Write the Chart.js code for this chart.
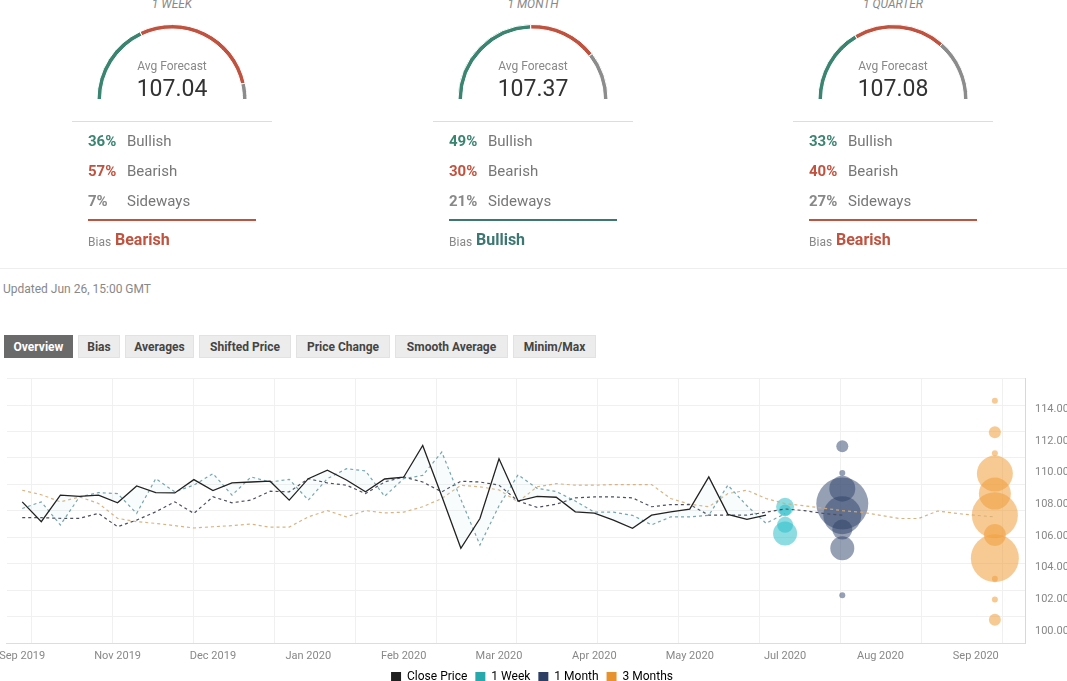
<!DOCTYPE html>
<html lang="en">
<head>
<meta charset="UTF-8">
<title>USD/JPY Forecast Poll</title>
<script src="https://cdn.jsdelivr.net/npm/chart.js@4.4.1/dist/chart.umd.min.js"></script>
<style>
    html, body { margin: 0; padding: 0; }
    body {
        width: 1067px; height: 681px; overflow: hidden; position: relative;
        background: #fff; font-family: Roboto, "Open Sans", sans-serif; color: #333;
    }
    .abs { position: absolute; white-space: nowrap; }
    .gtitle { font-size: 12px; font-style: italic; color: #888; line-height: 14px; width: 200px; text-align: center; }
    .avg-lbl { font-size: 12px; color: #888; line-height: 14px; width: 200px; text-align: center; }
    .avg-val { font-size: 23px; color: #333; line-height: 26px; width: 200px; text-align: center; }
    .hr { height: 1px; background: #ddd; }
    .pct { font-size: 15px; font-weight: bold; line-height: 18px; }
    .lbl { font-size: 15px; color: #777; line-height: 18px; }
    .bias-small { font-size: 12px; color: #888; line-height: 14px; }
    .bias-val { font-size: 16px; font-weight: bold; line-height: 18px; }
    .gauge { position: absolute; width: 152px; height: 76px; }
    .tabs { position: absolute; left: 4px; top: 335px; display: flex; gap: 5px; }
    .tab {
        height: 23px; line-height: 23px; font-size: 12px; font-weight: bold; color: #444;
        background: #ececec; text-align: center; box-sizing: border-box; border: 1px solid #e2e2e2;
    }
    .tab.on { background: #6a6a6a; color: #fff; border-color: #6a6a6a; }
    #mainWrap { position: absolute; left: -8px; top: 362px; width: 1075px; height: 331px; }
</style>
</head>
<body>
<div id="pollBox"></div>
<div class="abs hr" style="left:0; top:268px; width:1067px; background:#eee;"></div>
<div class="abs" style="left:3px; top:282px; font-size:12px; color:#888;">Updated Jun 26, 15:00 GMT</div>
<div id="mainWrap"><canvas id="mainChart"></canvas></div>
<div class="tabs" id="tabs"></div>

<script>
    // poll summary
    const horizons = ["1 WEEK", "1 MONTH", "1 QUARTER"];
    const avgForecast = ["107.04", "107.37", "107.08"];
    const bullish = [36, 49, 33];
    const bearish = [57, 30, 40];
    const sideways = [7, 21, 27];
    const bias = ["Bearish", "Bullish", "Bearish"];

    const tabNames = ["Overview", "Bias", "Averages", "Shifted Price", "Price Change", "Smooth Average", "Minim/Max"];

    // weekly series, index 0 = first week of Sep 2019
    const closePrice = [
        108.15, 106.9, 108.57, 108.5, 108.57, 108.09, 109.15, 108.73, 108.71, 109.55,
        108.86, 109.34, 109.4, 109.45, 108.26, 109.61, 110.14, 109.53, 108.78, 109.59,
        109.7, 111.7, 108.5, 105.22, 107.1, 110.86, 108.2, 108.5, 108.44, 107.52,
        107.44, 107.0, 106.48, 107.31, 107.52, 107.69, 109.72, 107.36, 107.04, 107.31
    ];
    const oneWeekAvg = [
        107.73, 108.15, 106.69, 108.46, 108.73, 108.67, 107.42, 109.61, 108.78, 109.2,
        109.93, 108.57, 109.72, 109.4, 109.57, 108.26, 109.61, 110.24, 110.1, 108.5,
        109.61, 109.82, 111.29, 108.3, 105.43, 107.9, 109.86, 109.0, 108.8, 108.2,
        107.5, 107.5, 107.3, 106.7, 107.2, 107.2, 107.3, 109.2, 107.9, 106.8,
        107.4
    ];
    const oneMonthAvg = [
        107.15, 107.15, 107.11, 107.11, 107.42, 106.58, 107.0, 107.52, 108.15, 107.42,
        108.47, 108.09, 108.26, 108.82, 108.78, 109.61, 109.34, 109.2, 108.67, 109.4,
        109.72, 109.4, 108.78, 109.45, 109.4, 109.2, 108.2, 107.8, 108.0, 108.4,
        108.46, 108.46, 108.4, 107.84, 107.98, 107.98, 107.31, 107.31, 107.31, 107.5,
        107.7, 107.6, 107.42, 107.31
    ];
    const threeMonthAvg = [
        108.88, 108.6, 108.15, 108.46, 108.05, 107.11, 106.9, 106.79, 106.65, 106.5,
        106.58, 106.65, 106.75, 106.55, 106.56, 107.2, 107.6, 107.2, 107.6, 107.45,
        107.5, 107.84, 108.36, 109.2, 109.1, 108.9, 108.15, 109.1, 109.3, 109.2,
        109.2, 109.24, 109.24, 109.24, 108.36, 108.0, 107.84, 108.67, 108.88, 108.36,
        108.04, 107.9, 107.75, 107.6, 107.5, 107.3, 107.1, 107.1, 107.57, 107.42,
        107.3, 107.2
    ];

    // forecast bubbles: week they target, forecast levels and bubble sizes
    const forecastWeek = [40, 43, 51];
    const weekLevels = [107.84, 107.6, 106.7, 106.16];
    const weekSizes = [9, 6, 8, 12];
    const monthLevels = [111.66, 109.97, 108.98, 108.04, 107.31, 106.4, 105.22, 102.26];
    const monthSizes = [6, 3, 13, 26, 19, 10, 12, 3];
    const quarterLevels = [114.53, 112.54, 111.22, 109.93, 108.67, 107.31, 106.06, 104.6, 103.3, 101.99, 100.71];
    const quarterSizes = [3, 6, 3, 18, 16, 23, 11, 24, 3, 3, 6];

    // axis labels
    const monthLabels = ["Sep 2019", "Nov 2019", "Dec 2019", "Jan 2020", "Feb 2020", "Mar 2020",
                         "Apr 2020", "May 2020", "Jul 2020", "Aug 2020", "Sep 2020"];
    const labelWeeks = [0, 5, 10, 15, 20, 25, 30, 35, 40, 45, 50];
    const gridWeeks = [0.5, 4.74, 8.98, 13.22, 17.46, 21.7, 25.94, 30.18, 34.42, 38.66, 42.9, 47.14, 51.38];
    const yTicks = [100, 102, 104, 106, 108, 110, 112, 114];

    const legendNames = ["Close Price", "1 Week", "1 Month", "3 Months"];
    const legendColors = ["#1f1f1f", "#26a8ac", "#2e3f66", "#e8922e"];

    const GREEN = "#3a8470", RED = "#c0533f", GREY = "#8c8c8c";
    const gaugeCenters = [172, 533, 893];

    Chart.defaults.font.family = "Roboto, 'Open Sans', sans-serif";

    // ---- top gauges ----
    const pollBox = document.getElementById("pollBox");
    horizons.forEach((h, k) => {
        const cx = gaugeCenters[k];
        const biasColor = bias[k] === "Bullish" ? "#3d7772" : RED;
        pollBox.insertAdjacentHTML("beforeend", `
            <div class="abs gtitle" style="left:${cx - 100}px; top:-3px;">${h}</div>
            <div class="gauge" style="left:${cx - 76}px; top:24px;"><canvas id="gauge${k}"></canvas></div>
            <div class="abs avg-lbl" style="left:${cx - 100}px; top:59px;">Avg Forecast</div>
            <div class="abs avg-val" style="left:${cx - 100}px; top:76px;">${avgForecast[k]}</div>
            <div class="abs hr" style="left:${cx - 100}px; top:121px; width:200px;"></div>
            <div class="abs pct" style="left:${cx - 84}px; top:132px; color:${GREEN};">${bullish[k]}%</div>
            <div class="abs lbl" style="left:${cx - 45}px; top:132px;">Bullish</div>
            <div class="abs pct" style="left:${cx - 84}px; top:162px; color:${RED};">${bearish[k]}%</div>
            <div class="abs lbl" style="left:${cx - 45}px; top:162px;">Bearish</div>
            <div class="abs pct" style="left:${cx - 84}px; top:192px; color:#888;">${sideways[k]}%</div>
            <div class="abs lbl" style="left:${cx - 45}px; top:192px;">Sideways</div>
            <div class="abs" style="left:${cx - 84}px; top:219px; width:168px; height:2px; background:${biasColor};"></div>
            <div class="abs bias-small" style="left:${cx - 84}px; top:235px;">Bias</div>
            <div class="abs bias-val" style="left:${cx - 57}px; top:231px; color:${biasColor};">${bias[k]}</div>
        `);
    });

    horizons.forEach((h, k) => {
        new Chart(document.getElementById("gauge" + k), {
            type: "doughnut",
            data: {
                labels: ["Bullish", "Bearish", "Sideways"],
                datasets: [{
                    data: [bullish[k], bearish[k], sideways[k]],
                    backgroundColor: [GREEN, RED, GREY],
                    borderColor: "#fff",
                    borderWidth: 1
                }]
            },
            options: {
                responsive: true,
                maintainAspectRatio: false,
                rotation: -90,
                circumference: 180,
                cutout: "94%",
                animation: false,
                plugins: { legend: { display: false }, tooltip: { enabled: false } }
            }
        });
    });

    // ---- tabs ----
    const tabWidths = [69, 42, 69, 92, 94, 113, 83];
    const tabs = document.getElementById("tabs");
    tabNames.forEach((t, i) => {
        tabs.insertAdjacentHTML("beforeend",
            `<div class="tab${i === 0 ? " on" : ""}" style="width:${tabWidths[i]}px">${t}</div>`);
    });

    // ---- main chart ----
    const toPoints = arr => arr.map((v, i) => ({ x: i, y: v }));
    const toBubbles = (levels, sizes, week) => levels.map((v, i) => ({ x: week, y: v, r: sizes[i] }));

    const lineBase = { pointRadius: 0, borderWidth: 1.2, tension: 0, order: 0 };

    new Chart(document.getElementById("mainChart"), {
        data: {
            datasets: [
                Object.assign({}, lineBase, {
                    type: "line", label: "Close Price", data: toPoints(closePrice),
                    borderColor: "#222", borderWidth: 1.3
                }),
                Object.assign({}, lineBase, {
                    type: "line", label: "1 Week", data: toPoints(oneWeekAvg),
                    borderColor: "rgba(95,150,160,0.85)", borderDash: [3, 3],
                    fill: 0, backgroundColor: "rgba(190,230,240,0.1)"
                }),
                Object.assign({}, lineBase, {
                    type: "line", label: "1 Month", data: toPoints(oneMonthAvg),
                    borderColor: "#4b4f5e", borderDash: [3, 3]
                }),
                Object.assign({}, lineBase, {
                    type: "line", label: "3 Months", data: toPoints(threeMonthAvg),
                    borderColor: "rgba(212,172,118,0.9)", borderDash: [3, 3]
                }),
                {
                    type: "bubble", label: "1 Week", order: 1,
                    data: toBubbles(weekLevels, weekSizes, forecastWeek[0]),
                    backgroundColor: "rgba(45,192,202,0.55)", borderWidth: 0
                },
                {
                    type: "bubble", label: "1 Month", order: 1,
                    data: toBubbles(monthLevels, monthSizes, forecastWeek[1]),
                    backgroundColor: "rgba(45,65,105,0.5)", borderWidth: 0
                },
                {
                    type: "bubble", label: "3 Months", order: 1,
                    data: toBubbles(quarterLevels, quarterSizes, forecastWeek[2]),
                    backgroundColor: "rgba(240,158,60,0.55)", borderWidth: 0
                }
            ]
        },
        options: {
            responsive: true,
            maintainAspectRatio: false,
            animation: false,
            layout: { autoPadding: false, padding: { left: 5, top: 4, right: 0, bottom: 0 } },
            plugins: {
                tooltip: { enabled: false },
                legend: {
                    position: "bottom",
                    labels: {
                        boxWidth: 10, boxHeight: 10, padding: 8,
                        color: "#777", font: { size: 12 },
                        generateLabels: () => legendNames.map((t, i) => ({
                            text: t, fillStyle: legendColors[i], strokeStyle: legendColors[i],
                            lineWidth: 0, hidden: false, datasetIndex: i
                        }))
                    }
                }
            },
            scales: {
                x: {
                    type: "linear", min: -0.82, max: 52.58,
                    afterBuildTicks: s => { s.ticks = labelWeeks.map(v => ({ value: v })); },
                    afterFit: s => { s.height = 20; },
                    ticks: {
                        autoSkip: false, maxRotation: 0, padding: 7,
                        color: "#888", font: { size: 11 },
                        callback: (v, i) => monthLabels[i]
                    },
                    grid: { display: false, drawTicks: false },
                    border: { color: "#ddd" }
                },
                x2: {
                    type: "linear", position: "top", min: -0.82, max: 52.58,
                    afterBuildTicks: s => { s.ticks = gridWeeks.map(v => ({ value: v })); },
                    afterFit: s => { s.height = 0; },
                    ticks: { display: false },
                    grid: { color: "#f0f0f0", drawTicks: false },
                    border: { display: false }
                },
                y: {
                    position: "right", min: 99.25, max: 115.92,
                    afterBuildTicks: s => { s.ticks = yTicks.map(v => ({ value: v })); },
                    afterFit: s => { s.width = 42; },
                    ticks: {
                        padding: 10, color: "#888", font: { size: 11 },
                        callback: v => v.toFixed(2)
                    },
                    grid: { display: false, drawTicks: false },
                    border: { color: "#d8d8d8" }
                },
                y2: {
                    position: "left", min: 0, max: 10,
                    afterFit: s => { s.width = 0; },
                    ticks: { display: false, stepSize: 1 },
                    grid: { color: "#f0f0f0", drawTicks: false },
                    border: { display: false }
                }
            }
        }
    });
</script>
</body>
</html>
